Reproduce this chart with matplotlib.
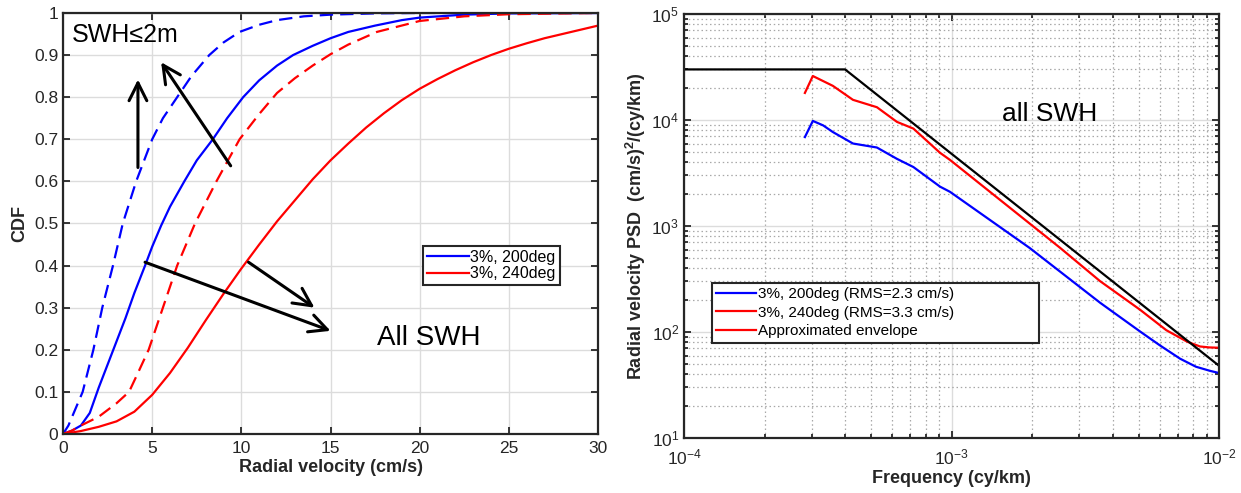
import matplotlib
matplotlib.use('Agg')
import numpy as np
import matplotlib.pyplot as plt
from matplotlib.lines import Line2D

plt.rcParams['font.family'] = ['Liberation Sans', 'DejaVu Sans']
plt.rcParams['mathtext.fontset'] = 'custom'
plt.rcParams['mathtext.rm'] = 'Liberation Sans'
plt.rcParams['mathtext.bf'] = 'Liberation Sans:bold'
plt.rcParams['mathtext.default'] = 'regular'
plt.rcParams['axes.unicode_minus'] = False

# ---- left panel: CDF of radial velocity (cm/s) ----
v_200_all = [0, 0.5, 1.0, 1.5, 2.0, 2.5, 3.0, 3.5, 4.0, 4.6, 5.0, 5.5, 6.0, 6.8, 7.5, 8.4, 9.2, 10.1,
             11, 12, 12.9, 14, 15, 16, 17.5, 19, 20, 22.5, 25, 30]
cdf_200_all = [0, 0.008, 0.02, 0.05, 0.11, 0.165, 0.22, 0.275, 0.335, 0.4, 0.445, 0.495, 0.54, 0.6, 0.65, 0.7,
               0.75, 0.8, 0.84, 0.875, 0.9, 0.922, 0.94, 0.955, 0.97, 0.983, 0.989, 0.996, 0.999, 1.0]

v_200_low = [0, 0.3, 0.6, 1.1, 1.7, 2.2, 2.8, 3.35, 4.1, 5.0, 5.6, 6.4, 7.2, 8.2, 9.0, 9.9, 11, 12,
             13.5, 15, 17.5, 20, 30]
cdf_200_low = [0, 0.02, 0.05, 0.1, 0.2, 0.3, 0.4, 0.5, 0.6, 0.7, 0.75, 0.8, 0.85, 0.9, 0.93, 0.955, 0.972,
               0.983, 0.992, 0.996, 0.999, 1.0, 1.0]

v_240_low = [0, 0.5, 1.0, 2.0, 3.0, 3.7, 4.2, 4.8, 5.6, 6.4, 7.4, 8.6, 9.9, 11, 12, 13, 14, 15, 16,
             17.6, 20, 22.5, 25, 30]
cdf_240_low = [0, 0.008, 0.02, 0.041, 0.073, 0.1, 0.145, 0.2, 0.3, 0.4, 0.5, 0.6, 0.7, 0.76, 0.81, 0.845,
               0.875, 0.902, 0.925, 0.955, 0.981, 0.992, 0.997, 1.0]

v_240_all = [0, 1, 2, 3, 4, 5, 6, 7, 8, 9, 10, 11, 12, 13, 14, 15, 16, 17, 18, 19, 20, 21, 22, 23, 24,
             25, 26, 27, 28, 29, 30]
cdf_240_all = [0, 0.007, 0.017, 0.03, 0.053, 0.093, 0.145, 0.205, 0.27, 0.333, 0.393, 0.45, 0.505, 0.555,
               0.605, 0.65, 0.69, 0.728, 0.762, 0.793, 0.82, 0.843, 0.864, 0.883, 0.9, 0.915, 0.928,
               0.94, 0.95, 0.96, 0.97]

cdf_xticks = [0, 5, 10, 15, 20, 25, 30]
cdf_yticks = [0, 0.1, 0.2, 0.3, 0.4, 0.5, 0.6, 0.7, 0.8, 0.9, 1]
cdf_ylabels = ['0', '0.1', '0.2', '0.3', '0.4', '0.5', '0.6', '0.7', '0.8', '0.9', '1']

# ---- right panel: PSD vs frequency (cy/km) ----
f_200 = [2.83e-4, 3.03e-4, 3.31e-4, 3.6e-4, 4.28e-4, 5.26e-4, 6.25e-4, 7.2e-4, 9.06e-4, 9.87e-4,
         1.96e-3, 3.59e-3, 5.07e-3, 6.0e-3, 7.15e-3, 8.2e-3, 9.25e-3, 1.0e-2]
psd_200 = [6.9e3, 9.8e3, 8.9e3, 7.7e3, 6.0e3, 5.5e3, 4.3e3, 3.6e3, 2.35e3, 2.1e3,
           620, 189, 101, 75, 56, 47, 43, 41]

f_240 = [2.83e-4, 3.03e-4, 3.6e-4, 4.28e-4, 5.26e-4, 6.25e-4, 7.2e-4, 9.06e-4, 9.87e-4,
         2.55e-3, 3.59e-3, 5.07e-3, 6.35e-3, 7.6e-3, 8.49e-3, 9.2e-3, 1.0e-2]
psd_240 = [1.8e4, 2.6e4, 2.1e4, 1.55e4, 1.32e4, 9.6e3, 8.3e3, 4.9e3, 4.2e3,
           620, 302, 162, 104, 81, 73, 71.5, 71]

f_env = [1e-4, 4e-4, 1e-2]
psd_env = [3e4, 3e4, 48]

tick_col = '#262626'

fig = plt.figure(figsize=(12.41, 4.93), dpi=100)
ax1 = fig.add_axes([0.0508, 0.1197, 0.4311, 0.854])
ax2 = fig.add_axes([0.5512, 0.1116, 0.4311, 0.860])

# left plot
l1, = ax1.plot(v_200_all, cdf_200_all, color='#0000ff', lw=1.6, label='3%, 200deg')
ax1.plot(v_200_low, cdf_200_low, color='#0000ff', lw=1.6, dashes=(6, 3.2))
ax1.plot(v_240_low, cdf_240_low, color='#ff0000', lw=1.6, dashes=(6, 3.2))
l2, = ax1.plot(v_240_all, cdf_240_all, color='#ff0000', lw=1.6, label='3%, 240deg')

ax1.set_xlim(0, 30)
ax1.set_ylim(0, 1)
ax1.set_xticks(cdf_xticks)
ax1.set_yticks(cdf_yticks)
ax1.set_yticklabels(cdf_ylabels)
ax1.grid(True, color='#dcdcdc', lw=1)
ax1.set_axisbelow(True)
ax1.set_xlabel('Radial velocity (cm/s)', fontsize=13, fontweight='bold', color=tick_col, labelpad=2)
ax1.set_ylabel('CDF', fontsize=13, fontweight='bold', color=tick_col, labelpad=4)

arrow = dict(arrowstyle='->,head_length=0.8,head_width=0.4', lw=2.2, color='k',
             mutation_scale=16, shrinkA=0, shrinkB=0)
ax1.annotate('', xy=(4.2, 0.842), xytext=(4.2, 0.633), arrowprops=arrow)
ax1.annotate('', xy=(5.5, 0.883), xytext=(9.4, 0.637), arrowprops=arrow)
ax1.annotate('', xy=(15.0, 0.245), xytext=(4.6, 0.408), arrowprops=arrow)
ax1.annotate('', xy=(14.1, 0.30), xytext=(10.4, 0.408), arrowprops=arrow)
ax1.text(0.5, 0.947, 'SWH≤2m', fontsize=18, va='center', ha='left')
ax1.text(17.6, 0.227, 'All SWH', fontsize=20, va='center', ha='left')

leg1 = ax1.legend(handles=[l1, l2], loc='upper left', bbox_to_anchor=(0.673, 0.447),
                  borderaxespad=0, fontsize=11.5, fancybox=False, framealpha=1,
                  edgecolor='#262626', handlelength=2.6, handletextpad=0.1,
                  labelspacing=0.1, borderpad=0.25)
leg1.get_frame().set_linewidth(1.5)

# right plot
b, = ax2.loglog(f_200, psd_200, color='#0000ff', lw=1.6)
r, = ax2.loglog(f_240, psd_240, color='#ff0000', lw=1.6)
ax2.loglog(f_env, psd_env, color='k', lw=1.6)
ax2.set_xlim(1e-4, 1e-2)
ax2.set_ylim(10, 1e5)
ax2.grid(True, which='major', color='#dcdcdc', lw=1, ls='-')
ax2.grid(True, which='minor', color='#a8a8a8', lw=0.9, ls=(0, (1.2, 2.2)))
ax2.set_axisbelow(True)
ax2.set_xlabel('Frequency (cy/km)', fontsize=13, fontweight='bold', color=tick_col, labelpad=2)
ax2.set_ylabel('Radial velocity PSD  (cm/s)$^{2}$/(cy/km)', fontsize=13, fontweight='bold',
               color=tick_col, labelpad=2)
ax2.text(1.55e-3, 1.13e4, 'all SWH', fontsize=19, va='center', ha='left')

env_handle = Line2D([], [], color='#ff0000', lw=1.6)
leg2 = ax2.legend(handles=[b, r, env_handle],
                  labels=['3%, 200deg (RMS=2.3 cm/s)', '3%, 240deg (RMS=3.3 cm/s)',
                          'Approximated envelope'],
                  loc='upper left', bbox_to_anchor=(0.052, 0.366 - 0.139, 0.611, 0.139),
                  mode='expand', borderaxespad=0, fontsize=11, fancybox=False, framealpha=1,
                  edgecolor='#262626', handlelength=2.6, handletextpad=0.1,
                  labelspacing=0.28, borderpad=0.3)
leg2.get_frame().set_linewidth(1.5)

for ax in (ax1, ax2):
    ax.tick_params(which='both', direction='in', top=True, right=True, colors=tick_col,
                   labelsize=12.5, width=1.3)
    ax.tick_params(which='major', length=5)
    ax.tick_params(which='minor', length=3)
    for s in ax.spines.values():
        s.set_linewidth(1.6)
        s.set_color('#262626')
ax1.tick_params(axis='x', pad=5)
ax2.tick_params(axis='x', pad=7)

fig.savefig('out.png', dpi=100)
